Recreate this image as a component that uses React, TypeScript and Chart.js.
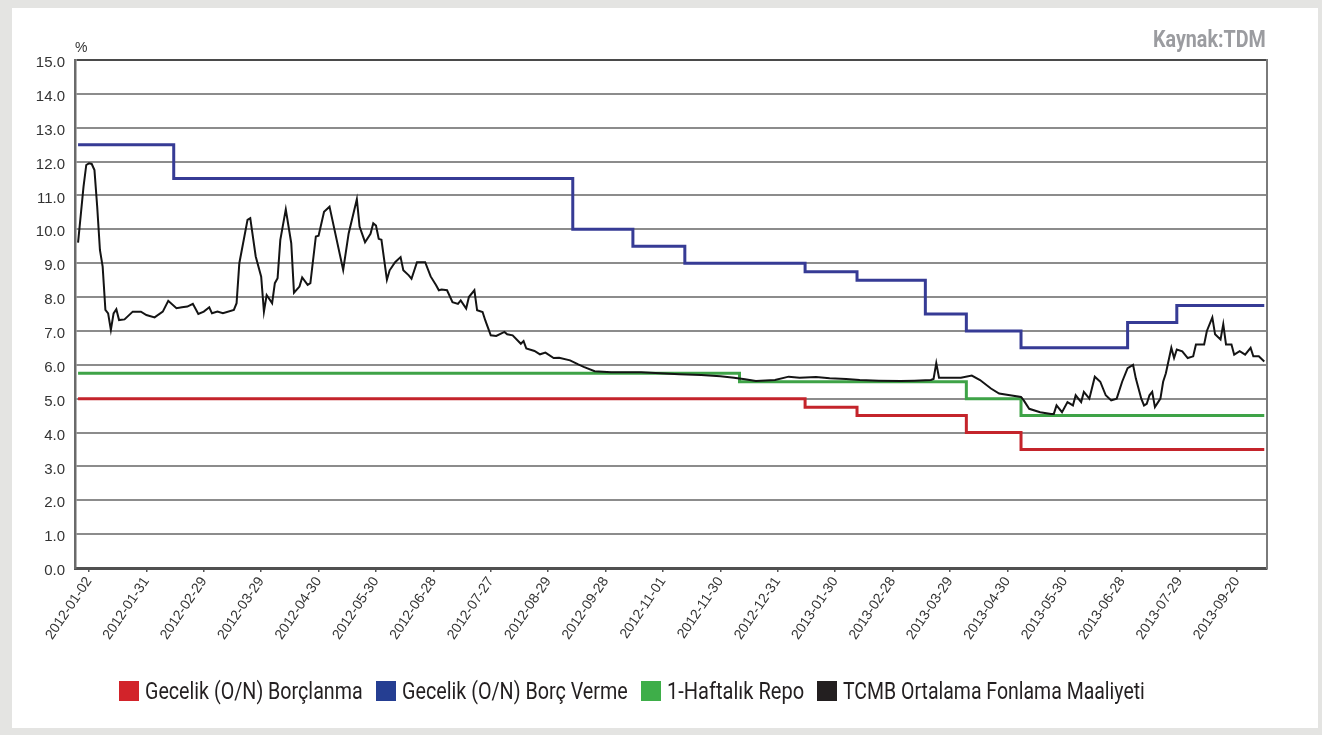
import { useEffect, useLayoutEffect, useRef } from "react";
import { Chart, registerables } from "chart.js";

Chart.register(...registerables);

// x positions are trading-day indices counted from 2012-01-02 (21 trading days per label)
const tickDays = [0, 21, 42, 63, 84, 105, 126, 147, 168, 189, 210, 231, 252, 273, 294, 315, 336, 357, 378, 399, 420];
const tickLabels = [
  "2012-01-02", "2012-01-31", "2012-02-29", "2012-03-29", "2012-04-30", "2012-05-30",
  "2012-06-28", "2012-07-27", "2012-08-29", "2012-09-28", "2012-11-01", "2012-11-30",
  "2012-12-31", "2013-01-30", "2013-02-28", "2013-03-29", "2013-04-30", "2013-05-30",
  "2013-06-28", "2013-07-29", "2013-09-20",
];
const yTicks = [0, 1, 2, 3, 4, 5, 6, 7, 8, 9, 10, 11, 12, 13, 14, 15];

// Gecelik (O/N) Borçlanma — change points
const borrowingDays = [-4, 262, 281, 321, 341, 430];
const borrowingRates = [5.0, 4.75, 4.5, 4.0, 3.5, 3.5];

// Gecelik (O/N) Borç Verme — change points
const lendingDays = [-4, 31, 177, 199, 218, 262, 281, 306, 321, 341, 380, 398, 430];
const lendingRates = [12.5, 11.5, 10.0, 9.5, 9.0, 8.75, 8.5, 7.5, 7.0, 6.5, 7.25, 7.75, 7.75];

// 1-Haftalık Repo — change points
const repoDays = [-4, 238, 321, 341, 430];
const repoRates = [5.75, 5.5, 5.0, 4.5, 4.5];

// TCMB Ortalama Fonlama Maaliyeti
const fundingDays = [
  -4, -2, -1, 0, 1, 2, 3, 4, 5, 6, 7, 8, 9, 10, 11, 13, 16, 19, 21, 24, 27, 29, 32, 34, 36, 38, 40, 42, 44, 45,
  47, 49, 53, 54, 55, 58, 59, 61, 63, 64, 65, 67, 68, 69, 70, 72, 74, 75, 77, 78, 80, 81, 83, 84, 86, 88, 93, 95,
  98, 99, 101, 103, 104, 105, 106, 107, 109, 110, 112, 114, 115, 117, 118, 120, 123, 125, 127, 128, 129, 131,
  133, 135, 136, 138, 139, 141, 142, 144, 145, 147, 149, 152, 153, 155, 158, 159, 160, 163, 165, 167, 170, 172,
  176, 179, 181, 185, 191, 202, 209, 216, 224, 231, 236, 240, 244, 251, 256, 260, 266, 271, 277, 282, 289, 297,
  302, 308, 309, 310, 311, 319, 323, 326, 330, 333, 337, 341, 342, 344, 348, 352, 353, 354, 356, 358, 360, 361,
  363, 364, 366, 368, 370, 372, 374, 376, 378, 380, 382, 383, 385, 386, 387, 388, 389, 390, 392, 393, 394, 396,
  397, 398, 400, 402, 404, 405, 408, 409, 411, 412, 414, 415, 416, 418, 419, 421, 423, 425, 426, 428, 430,
];
const fundingRates = [
  9.61, 11.26, 11.9, 11.95, 11.93, 11.75, 10.67, 9.39, 8.9, 7.62, 7.52, 7.03, 7.52, 7.64, 7.32, 7.34, 7.57, 7.57,
  7.47, 7.4, 7.57, 7.89, 7.67, 7.7, 7.72, 7.8, 7.5, 7.57, 7.7, 7.52, 7.57, 7.52, 7.62, 7.82, 9.0, 10.28, 10.33,
  9.2, 8.6, 7.57, 8.06, 7.82, 8.41, 8.56, 9.69, 10.59, 9.59, 8.13, 8.31, 8.58, 8.36, 8.41, 9.79, 9.81, 10.52,
  10.67, 8.8, 9.88, 10.89, 10.08, 9.62, 9.87, 10.18, 10.11, 9.72, 9.69, 8.51, 8.79, 9.03, 9.18, 8.79, 8.64, 8.54,
  9.03, 9.03, 8.61, 8.35, 8.2, 8.22, 8.2, 7.85, 7.8, 7.9, 7.66, 8.0, 8.2, 7.61, 7.56, 7.31, 6.87, 6.85, 6.97, 6.9,
  6.87, 6.62, 6.7, 6.48, 6.41, 6.31, 6.36, 6.2, 6.21, 6.13, 6.01, 5.94, 5.81, 5.78, 5.78, 5.75, 5.72, 5.7, 5.66,
  5.62, 5.57, 5.52, 5.55, 5.65, 5.62, 5.64, 5.6, 5.58, 5.55, 5.53, 5.52, 5.53, 5.55, 5.58, 6.05, 5.62, 5.62, 5.68,
  5.55, 5.3, 5.15, 5.1, 5.05, 4.95, 4.7, 4.6, 4.55, 4.55, 4.8, 4.6, 4.9, 4.8, 5.1, 4.9, 5.2, 5.0, 5.65, 5.5, 5.1,
  4.95, 5.0, 5.5, 5.9, 6.0, 5.6, 5.0, 4.8, 4.85, 5.1, 5.2, 4.75, 5.0, 5.5, 5.75, 6.5, 6.2, 6.45, 6.4, 6.2, 6.25,
  6.6, 6.6, 7.0, 7.4, 6.9, 6.75, 7.2, 6.6, 6.6, 6.3, 6.4, 6.3, 6.5, 6.25, 6.25, 6.1,
];

const seriesNames = [
  "Gecelik (O/N) Borçlanma",
  "Gecelik (O/N) Borç Verme",
  "1-Haftalık Repo",
  "TCMB Ortalama Fonlama Maaliyeti",
];
const lineColors = ["#c4242b", "#363b95", "#3ea347", "#141414"];
const legendColors = ["#d2232a", "#253e92", "#3eae49", "#231f20"];

// layout sizes of the condensed legend / source texts (style only)
const legendTextWidths = [218, 226, 137, 302];
const sourceTextWidth = 113;

const toPoints = (xs: number[], ys: number[]) => xs.map((x, i) => ({ x, y: ys[i] }));

const arial = "'Liberation Sans', Arial, sans-serif";
const condensed = "Roboto, 'Liberation Sans', sans-serif";

export default function App() {
  const canvasRef = useRef<HTMLCanvasElement>(null);
  const textRefs = useRef<(HTMLSpanElement | null)[]>([]);
  const sourceRef = useRef<HTMLSpanElement>(null);

  useLayoutEffect(() => {
    textRefs.current.forEach((el, i) => {
      if (!el) return;
      const w = el.offsetWidth;
      if (w > 0) el.style.transform = `scaleX(${legendTextWidths[i] / w})`;
    });
    const s = sourceRef.current;
    if (s && s.offsetWidth > 0) s.style.transform = `scaleX(${sourceTextWidth / s.offsetWidth})`;
  }, []);

  useEffect(() => {
    const canvas = canvasRef.current;
    if (!canvas) return;
    const chart = new Chart(canvas, {
      type: "line",
      data: {
        datasets: [
          {
            label: seriesNames[3],
            data: toPoints(fundingDays, fundingRates),
            borderColor: lineColors[3],
            borderWidth: 2,
            pointRadius: 0,
            tension: 0,
            order: 0,
          },
          {
            label: seriesNames[1],
            data: toPoints(lendingDays, lendingRates),
            borderColor: lineColors[1],
            borderWidth: 3,
            pointRadius: 0,
            stepped: "before",
            order: 1,
          },
          {
            label: seriesNames[2],
            data: toPoints(repoDays, repoRates),
            borderColor: lineColors[2],
            borderWidth: 3,
            pointRadius: 0,
            stepped: "before",
            order: 2,
          },
          {
            label: seriesNames[0],
            data: toPoints(borrowingDays, borrowingRates),
            borderColor: lineColors[0],
            borderWidth: 3,
            pointRadius: 0,
            stepped: "before",
            order: 3,
          },
        ],
      },
      options: {
        animation: false,
        responsive: false,
        maintainAspectRatio: false,
        layout: { padding: { left: 12, top: 60, right: 55, bottom: 87 } },
        plugins: { legend: { display: false }, tooltip: { enabled: false } },
        scales: {
          x: {
            type: "linear",
            min: -5.12,
            max: 431,
            afterBuildTicks: (s: any) => {
              s.ticks = tickDays.map((v) => ({ value: v }));
            },
            afterFit: (s: any) => {
              s.height = 80;
            },
            ticks: {
              autoSkip: false,
              maxRotation: 56,
              minRotation: 56,
              padding: 2,
              color: "#333",
              font: { family: arial, size: 14 },
              callback: (_v: any, i: number) => tickLabels[i] ?? "",
            },
            grid: { drawOnChartArea: false, drawTicks: true, tickLength: 4, color: "#555", lineWidth: 1.5 },
            border: { display: true, color: "#505050", width: 3 },
          },
          y: {
            min: 0,
            max: 15,
            afterBuildTicks: (s: any) => {
              s.ticks = yTicks.map((v) => ({ value: v }));
            },
            afterFit: (s: any) => {
              s.width = 63;
            },
            ticks: {
              padding: 10,
              labelOffset: 3,
              color: "#333",
              font: { family: arial, size: 15 },
              callback: (v: any) => Number(v).toFixed(1),
            },
            grid: {
              drawTicks: false,
              color: (ctx: any) => (ctx.tick && ctx.tick.value === 15 ? "#4a4a4a" : "#8c8c8c"),
              lineWidth: 2,
            },
            border: { display: true, color: "#6a6a6a", width: 2.5 },
          },
          y2: {
            position: "right",
            min: 0,
            max: 15,
            ticks: { display: false },
            grid: { display: false },
            border: { display: true, color: "#7a7a7a", width: 2 },
            afterFit: (s: any) => {
              s.width = 0;
            },
          },
        },
      } as any,
    });
    return () => chart.destroy();
  }, []);

  return (
    <div style={{ position: "absolute", left: 0, top: 0, width: 1322, height: 735, background: "#e4e4e2", overflow: "hidden" }}>
      <div style={{ position: "absolute", left: 12, top: 8, width: 1306, height: 720, background: "#ffffff" }} />
      <canvas
        ref={canvasRef}
        width={1322}
        height={735}
        style={{ position: "absolute", left: 0, top: 0, width: 1322, height: 735 }}
      />
      <div style={{ position: "absolute", left: 75, top: 40, fontFamily: arial, fontSize: 14, lineHeight: "14px", color: "#333" }}>%</div>
      <div style={{ position: "absolute", left: 1266 - sourceTextWidth, top: 28, width: sourceTextWidth, height: 24 }}>
        <span
          ref={sourceRef}
          style={{
            display: "inline-block",
            transformOrigin: "0 0",
            fontFamily: condensed,
            fontWeight: "bold",
            fontSize: 23,
            lineHeight: "24px",
            color: "#9b9ca0",
            whiteSpace: "nowrap",
          }}
        >
          Kaynak:TDM
        </span>
      </div>
      <div style={{ position: "absolute", left: 119, top: 681, display: "flex", alignItems: "flex-start", whiteSpace: "nowrap" }}>
        {seriesNames.map((name, i) => (
          <div key={name} style={{ display: "flex", alignItems: "flex-start", marginRight: 13 }}>
            <div style={{ width: 20, height: 20, background: legendColors[i], marginRight: 6 }} />
            <div style={{ width: legendTextWidths[i], height: 24 }}>
              <span
                ref={(el) => {
                  textRefs.current[i] = el;
                }}
                style={{
                  display: "inline-block",
                  transformOrigin: "0 0",
                  fontFamily: condensed,
                  fontSize: 24,
                  lineHeight: "24px",
                  marginTop: -2,
                  color: "#231f20",
                  whiteSpace: "nowrap",
                }}
              >
                {name}
              </span>
            </div>
          </div>
        ))}
      </div>
    </div>
  );
}
